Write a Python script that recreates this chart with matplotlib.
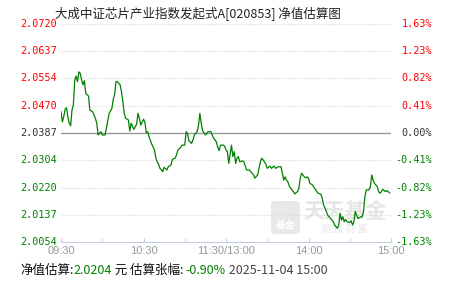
import numpy as np
import matplotlib
matplotlib.use("Agg")
from matplotlib import pyplot as plt
from matplotlib.patches import FancyBboxPatch

plt.rcParams['font.family'] = ['Noto Sans CJK SC', 'DejaVu Sans']

# data: minute index since 09:30 (lunch removed) and estimated NAV
minute = [0, 1, 2, 3, 4, 5, 6, 7, 8, 9, 10, 11, 12, 13, 14, 15, 16, 17, 18, 20,
          21, 23, 25, 26, 27, 29, 30, 32, 33, 34, 35, 37, 38, 39, 40, 41, 43, 44, 45, 46,
          47, 49, 50, 51, 53, 55, 56, 57, 58, 60, 61, 62, 63, 64, 66, 68, 69, 70, 71, 72,
          73, 74, 75, 77, 78, 80, 81, 83, 84, 85, 87, 88, 90, 91, 92, 93, 94, 95, 96, 97,
          99, 100, 101, 102, 103, 105, 106, 107, 109, 110, 111, 113, 114, 115, 116, 118, 119, 120, 121, 122,
          124, 125, 126, 127, 128, 129, 130, 132, 133, 134, 135, 137, 138, 139, 140, 141, 143, 144, 145, 146,
          147, 149, 150, 152, 153, 155, 156, 158, 160, 161, 162, 163, 164, 165, 166, 168, 169, 170, 172, 173,
          174, 175, 177, 178, 179, 180, 181, 183, 184, 185, 186, 187, 189, 190, 191, 192, 193, 194, 196, 197,
          198, 199, 201, 202, 203, 204, 205, 206, 207, 208, 210, 211, 212, 213, 214, 215, 216, 218, 219, 220,
          221, 222, 224, 225, 226, 227, 228, 230, 231, 232, 233, 234, 236, 237, 239]
nav = [2.0452, 2.0421, 2.0437, 2.0460, 2.0464, 2.0437, 2.0417, 2.0409, 2.0457, 2.0473,
       2.0549, 2.0561, 2.0544, 2.0574, 2.0569, 2.0549, 2.0534, 2.0547, 2.0508, 2.0500,
       2.0457, 2.0452, 2.0432, 2.0417, 2.0381, 2.0391, 2.0381, 2.0381, 2.0401, 2.0425,
       2.0447, 2.0462, 2.0490, 2.0505, 2.0544, 2.0544, 2.0534, 2.0513, 2.0483, 2.0447,
       2.0432, 2.0427, 2.0393, 2.0417, 2.0398, 2.0414, 2.0447, 2.0432, 2.0411, 2.0429,
       2.0421, 2.0388, 2.0391, 2.0376, 2.0353, 2.0335, 2.0310, 2.0299, 2.0291, 2.0279,
       2.0274, 2.0269, 2.0282, 2.0274, 2.0284, 2.0289, 2.0307, 2.0310, 2.0320, 2.0335,
       2.0343, 2.0350, 2.0350, 2.0391, 2.0386, 2.0363, 2.0360, 2.0355, 2.0366, 2.0381,
       2.0391, 2.0411, 2.0447, 2.0417, 2.0394, 2.0381, 2.0386, 2.0391, 2.0391, 2.0381,
       2.0371, 2.0360, 2.0343, 2.0333, 2.0350, 2.0350, 2.0347, 2.0335, 2.0330, 2.0294,
       2.0350, 2.0315, 2.0330, 2.0294, 2.0310, 2.0315, 2.0299, 2.0302, 2.0299, 2.0286,
       2.0274, 2.0274, 2.0269, 2.0264, 2.0259, 2.0249, 2.0259, 2.0279, 2.0299, 2.0310,
       2.0305, 2.0292, 2.0279, 2.0286, 2.0279, 2.0286, 2.0279, 2.0284, 2.0284, 2.0264,
       2.0243, 2.0253, 2.0243, 2.0238, 2.0225, 2.0213, 2.0208, 2.0201, 2.0208, 2.0218,
       2.0249, 2.0264, 2.0253, 2.0250, 2.0253, 2.0249, 2.0233, 2.0228, 2.0221, 2.0215,
       2.0208, 2.0203, 2.0200, 2.0187, 2.0167, 2.0157, 2.0147, 2.0136, 2.0126, 2.0121,
       2.0116, 2.0106, 2.0096, 2.0106, 2.0142, 2.0121, 2.0131, 2.0116, 2.0123, 2.0116,
       2.0113, 2.0119, 2.0106, 2.0116, 2.0147, 2.0136, 2.0126, 2.0131, 2.0131, 2.0147,
       2.0192, 2.0213, 2.0213, 2.0223, 2.0259, 2.0243, 2.0233, 2.0223, 2.0208, 2.0203,
       2.0208, 2.0215, 2.0208, 2.0211, 2.0204]

nav_ticks = [2.0720, 2.0637, 2.0554, 2.0470, 2.0387, 2.0304, 2.0220, 2.0137, 2.0054]
pct_labels = ["1.63%", "1.23%", "0.82%", "0.41%", "0.00%", "-0.41%", "-0.82%", "-1.23%", "-1.63%"]
time_pos = [0, 60, 120, 180, 240]
time_labels = ["09:30", "10:30", "11:30/13:00", "14:00", "15:00"]

title = "大成中证芯片产业指数发起式A[020853] 净值估算图"
last_nav = "2.0204"
last_pct = "-0.90%"
stamp = "2025-11-04 15:00"

red = "#ff0000"
green = "#008000"

fig = plt.figure(figsize=(4.51, 2.81), dpi=100)
W, H = 451, 281
ax = fig.add_axes([61 / W, 39 / H, 330 / W, 218 / H])
ax.set_zorder(2)
ax.set_facecolor("none")

ax.plot(minute, nav, color=green, lw=0.9)

ax.set_xlim(0, 240)
ax.set_ylim(nav_ticks[-1], nav_ticks[0])

# grid lines
for i, v in enumerate(nav_ticks[:-1]):
    if i == 4:
        ax.axhline(v, color="#999999", lw=1.0, zorder=0)
    else:
        ax.axhline(v, color="#dddddd", lw=0.8, ls=(0, (1, 1)), zorder=0)

# left and right labels
for i, (v, p) in enumerate(zip(nav_ticks, pct_labels)):
    c = red if i < 4 else ("#333333" if i == 4 else green)
    ax.text(-4 / 330, v, "%.4f" % v, color=c, ha="right", va="center",
            fontsize=7.3, family="DejaVu Sans Mono", transform=ax.get_yaxis_transform())
    ax.text(1 + 41 / 330, v, p, color=c, ha="right", va="center",
            fontsize=7.3, family="DejaVu Sans Mono", transform=ax.get_yaxis_transform())

ax.set_yticks([])
for s in ["left", "right", "top"]:
    ax.spines[s].set_visible(False)
ax.spines["bottom"].set_color("#c3cfdc")
ax.set_xticks(time_pos)
ax.set_xticks([30, 90, 150, 210], minor=True)
ax.set_xticklabels(time_labels, family="Liberation Sans", fontsize=8, color="#999999")
ax.tick_params(axis="x", which="both", direction="in", length=3, color="#c3cfdc", pad=3)

# watermark (behind the axes)
box = FancyBboxPatch((271 / W, 47 / H), 29 / W, 33 / H, boxstyle="round,pad=0,rounding_size=0.012",
                     transform=fig.transFigure, facecolor="#e8e8e8", edgecolor="none", zorder=0)
fig.patches.append(box)
fig.text(285.5 / W, 56 / H, "基金", color="white", fontsize=7, ha="center", va="center",
         weight="bold", zorder=0.5)
fig.text(345 / W, 70 / H, "天天基金", color="#e6e6e6", fontsize=15, ha="center", va="center",
         weight="bold", zorder=0.5)
fig.text(345 / W, 52 / H, "链 接 财 富", color="#e6e6e6", fontsize=7, ha="center", va="center",
         zorder=0.5)

# title and footer
fig.text(198 / W, 1 - 14 / H, title, ha="center", va="center", fontsize=9, color="#222222")
fs = 9
parts = [("净值估算:", "#111111"), (last_nav, green), (" 元 估算张幅: ", "#111111"),
         (last_pct, green), (" " + stamp, "#444444")]
fig.canvas.draw()
x = 20 / W
r = fig.canvas.get_renderer()
for txt, col in parts:
    t = fig.text(x, 1 - 270 / H, txt, ha="left", va="center", fontsize=fs, color=col)
    bb = t.get_window_extent(renderer=r)
    x += bb.width / W

fig.savefig("out.png", dpi=100)
